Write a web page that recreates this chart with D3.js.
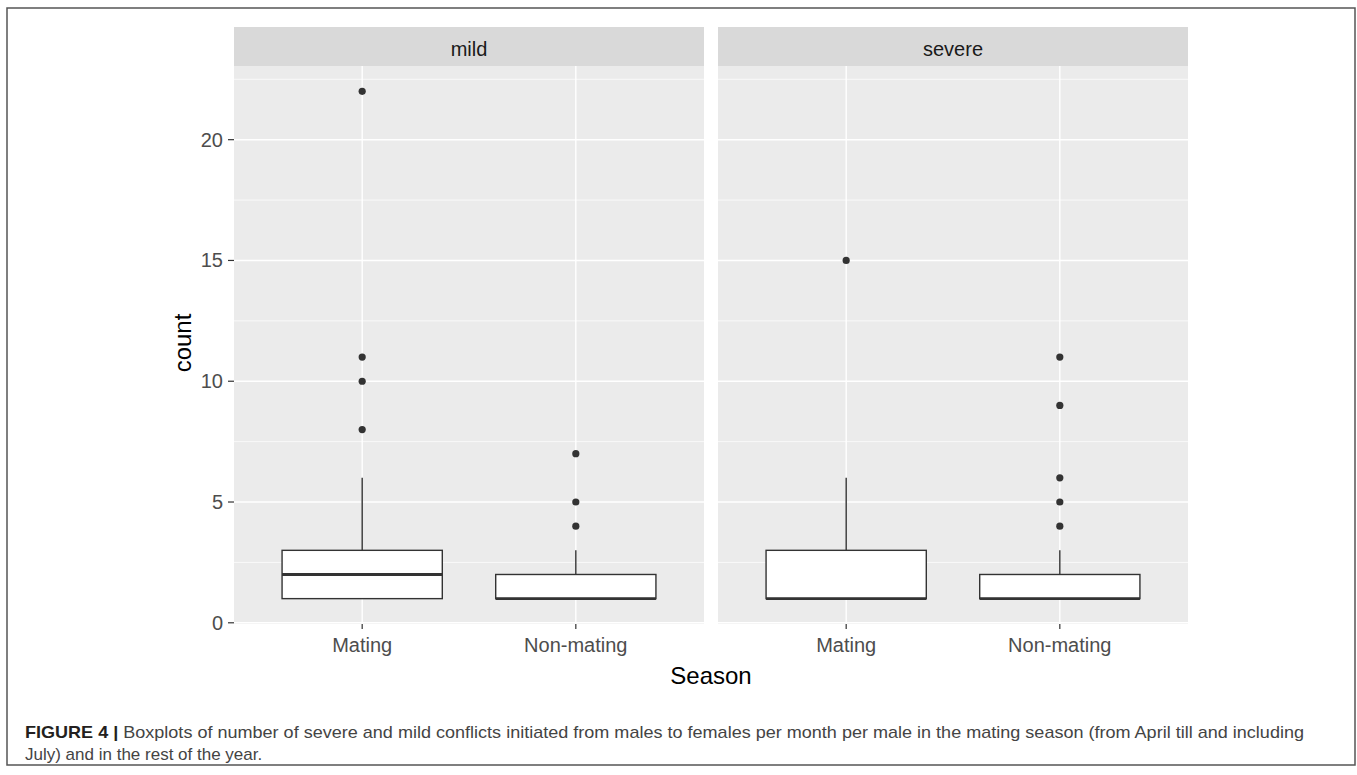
<!DOCTYPE html>
<html lang="en">
<head>
    <meta charset="utf-8" />
    <title>Boxplots of conflicts</title>
    <script src="https://cdn.jsdelivr.net/npm/d3@7/dist/d3.min.js"></script>
    <style>
        body { margin: 0; background: #fff; }
        svg text { font-family: "Liberation Sans", Arial, sans-serif; }
    </style>
</head>
<body>
    <div id="vis"></div>
    <script type="text/javascript">
        // ---- data ----
        var facets = ["mild", "severe"];
        var seasons = ["Mating", "Non-mating"];
        var yTicks = [0, 5, 10, 15, 20];
        var yMinor = [2.5, 7.5, 12.5, 17.5, 22.5];

        // [lower whisker, q1, median, q3, upper whisker] for Mating, Non-mating
        var mildBoxes = [[1, 1, 2, 3, 6], [1, 1, 1, 2, 3]];
        var severeBoxes = [[1, 1, 1, 3, 6], [1, 1, 1, 2, 3]];
        var mildOutliers = [[8, 10, 11, 22], [4, 5, 7]];
        var severeOutliers = [[15], [4, 5, 6, 9, 11]];

        var captionLine1 = "Boxplots of number of severe and mild conflicts initiated from males to females per month per male in the mating season (from April till and including";
        var captionLine2 = "July) and in the rest of the year.";

        // ---- layout ----
        var width = 1357, height = 775;
        var panelTop = 66, panelBottom = 624, stripTop = 27;
        var panelLefts = [234, 718], panelWidth = 470;

        var svg = d3.select("#vis").append("svg")
            .attr("width", width)
            .attr("height", height);

        // figure frame
        svg.append("rect")
            .attr("x", 7).attr("y", 8)
            .attr("width", 1348).attr("height", 757)
            .attr("fill", "none")
            .attr("stroke", "#555")
            .attr("stroke-width", 1.5);

        var y = d3.scaleLinear().domain([-0.05, 23.05]).range([panelBottom, panelTop]);
        var x = d3.scalePoint().domain(seasons).range([0, panelWidth]).padding(0.6);
        var boxWidth = x.step() * 0.75;

        var boxesByFacet = { mild: mildBoxes, severe: severeBoxes };
        var outliersByFacet = { mild: mildOutliers, severe: severeOutliers };

        facets.forEach(function (facet, fi) {
            var g = svg.append("g").attr("transform", "translate(" + panelLefts[fi] + ",0)");

            // strip
            g.append("rect")
                .attr("x", 0).attr("y", stripTop)
                .attr("width", panelWidth).attr("height", panelTop - stripTop)
                .attr("fill", "#d9d9d9");
            g.append("text")
                .attr("x", panelWidth / 2).attr("y", 56)
                .attr("text-anchor", "middle")
                .attr("font-size", 20)
                .attr("fill", "#1a1a1a")
                .text(facet);

            // panel background
            g.append("rect")
                .attr("x", 0).attr("y", panelTop)
                .attr("width", panelWidth).attr("height", panelBottom - panelTop)
                .attr("fill", "#ebebeb");

            // grid
            g.selectAll("line.minor").data(yMinor).enter().append("line")
                .attr("x1", 0).attr("x2", panelWidth)
                .attr("y1", function (d) { return y(d); })
                .attr("y2", function (d) { return y(d); })
                .attr("stroke", "#fff").attr("stroke-width", 0.7);
            g.selectAll("line.major").data(yTicks).enter().append("line")
                .attr("x1", 0).attr("x2", panelWidth)
                .attr("y1", function (d) { return y(d); })
                .attr("y2", function (d) { return y(d); })
                .attr("stroke", "#fff").attr("stroke-width", 1.4);
            g.selectAll("line.vmajor").data(seasons).enter().append("line")
                .attr("x1", function (d) { return x(d); })
                .attr("x2", function (d) { return x(d); })
                .attr("y1", panelTop).attr("y2", panelBottom)
                .attr("stroke", "#fff").attr("stroke-width", 1.4);

            // boxes
            var boxes = boxesByFacet[facet];
            seasons.forEach(function (s, si) {
                var b = boxes[si];
                var cx = x(s);
                // whiskers
                g.append("line")
                    .attr("x1", cx).attr("x2", cx)
                    .attr("y1", y(b[3])).attr("y2", y(b[4]))
                    .attr("stroke", "#333").attr("stroke-width", 1.4);
                g.append("line")
                    .attr("x1", cx).attr("x2", cx)
                    .attr("y1", y(b[1])).attr("y2", y(b[0]))
                    .attr("stroke", "#333").attr("stroke-width", 1.4);
                g.append("rect")
                    .attr("x", cx - boxWidth / 2)
                    .attr("y", y(b[3]))
                    .attr("width", boxWidth)
                    .attr("height", y(b[1]) - y(b[3]))
                    .attr("fill", "#fff")
                    .attr("stroke", "#333").attr("stroke-width", 1.4);
                g.append("line")
                    .attr("x1", cx - boxWidth / 2).attr("x2", cx + boxWidth / 2)
                    .attr("y1", y(b[2])).attr("y2", y(b[2]))
                    .attr("stroke", "#333").attr("stroke-width", 2.8);

                g.selectAll("circle.o" + si).data(outliersByFacet[facet][si]).enter().append("circle")
                    .attr("cx", cx)
                    .attr("cy", function (d) { return y(d); })
                    .attr("r", 3.6)
                    .attr("fill", "#333");
            });

            // x ticks
            g.selectAll("line.xt").data(seasons).enter().append("line")
                .attr("x1", function (d) { return x(d); })
                .attr("x2", function (d) { return x(d); })
                .attr("y1", panelBottom).attr("y2", panelBottom + 5)
                .attr("stroke", "#333").attr("stroke-width", 1.2);
            g.selectAll("text.xt").data(seasons).enter().append("text")
                .attr("x", function (d) { return x(d); })
                .attr("y", 652)
                .attr("text-anchor", "middle")
                .attr("font-size", 20)
                .attr("fill", "#4d4d4d")
                .text(function (d) { return d; });
        });

        // y axis
        var yAxis = svg.append("g");
        yAxis.selectAll("line").data(yTicks).enter().append("line")
            .attr("x1", 228).attr("x2", 234)
            .attr("y1", function (d) { return y(d); })
            .attr("y2", function (d) { return y(d); })
            .attr("stroke", "#333").attr("stroke-width", 1.2);
        yAxis.selectAll("text").data(yTicks).enter().append("text")
            .attr("x", 223)
            .attr("y", function (d) { return y(d) + 7; })
            .attr("text-anchor", "end")
            .attr("font-size", 20)
            .attr("fill", "#4d4d4d")
            .text(function (d) { return d; });

        // axis titles
        svg.append("text")
            .attr("transform", "translate(191,343) rotate(-90)")
            .attr("text-anchor", "middle")
            .attr("font-size", 24)
            .attr("fill", "#000")
            .text("count");
        svg.append("text")
            .attr("x", 711).attr("y", 684)
            .attr("text-anchor", "middle")
            .attr("font-size", 24)
            .attr("fill", "#000")
            .text("Season");

        // caption
        var cap = svg.append("text")
            .attr("x", 25).attr("y", 738)
            .attr("font-size", 17)
            .attr("fill", "#444")
            .attr("textLength", 1279)
            .attr("lengthAdjust", "spacingAndGlyphs");
        cap.append("tspan").attr("font-weight", "bold").attr("fill", "#231f20").text("FIGURE 4 | ");
        cap.append("tspan").text(captionLine1);
        svg.append("text")
            .attr("x", 25).attr("y", 760)
            .attr("font-size", 17)
            .attr("fill", "#444")
            .text(captionLine2);
    </script>
</body>
</html>
